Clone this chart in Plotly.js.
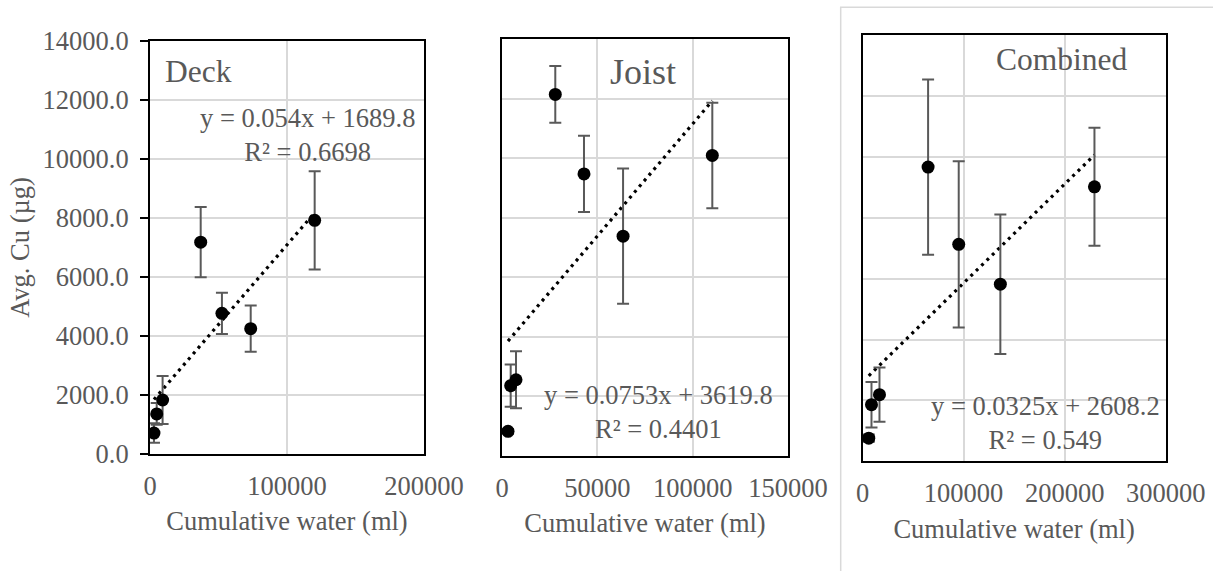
<!DOCTYPE html>
<html>
<head>
<meta charset="utf-8">
<script src="https://cdn.plot.ly/plotly-3.0.1.min.js"></script>
<style>html,body{margin:0;padding:0;background:#fff;}#chart{width:1213px;height:571px;}</style>
</head>
<body>
<div id="chart"></div>
<script>
// ---- data ----
const panelNames = ["Deck", "Joist", "Combined"];

const deckX   = [2900, 4900, 9200, 37000, 52500, 73500, 120200];
const deckY   = [710, 1360, 1830, 7180, 4770, 4250, 7920];
const deckErr = [330, 370, 810, 1190, 700, 780, 1665];

const joistX   = [3150, 4550, 7350, 27950, 43000, 63500, 110300];
const joistY   = [830, 2360, 2560, 12140, 9470, 7380, 10090];
const joistErr = [80, 710, 960, 955, 1280, 2270, 1770];

const combX   = [6200, 8900, 16800, 64900, 95200, 136400, 229500];
const combY   = [760, 1860, 2190, 9670, 7130, 5820, 9020];
const combErr = [120, 750, 890, 2880, 2730, 2290, 1940];

const slopes     = [0.054, 0.0753, 0.0325];
const intercepts = [1689.8, 3619.8, 2608.2];
const eqLabels   = ["y = 0.054x + 1689.8<br>R² = 0.6698",
                    "y = 0.0753x + 3619.8<br>R² = 0.4401",
                    "y = 0.0325x + 2608.2<br>R² = 0.549"];

const xRanges = [[0, 200000], [0, 150000], [0, 300000]];
const xTicks  = [[0, 100000, 200000], [0, 50000, 100000, 150000], [0, 100000, 200000, 300000]];
const yTicks  = [0, 2000, 4000, 6000, 8000, 10000, 12000, 14000];

const xTitle = "Cumulative water (ml)";
const yTitle = "Avg. Cu (µg)";

// ---- layout geometry (pixels) ----
const W = 1213, H = 571;
const boxes = [
  {l:150, r:424, t:41, b:454},
  {l:502, r:788, t:39, b:456},
  {l:862.5, r:1165.7, t:35.3, b:461.3}
];
const FONT = "Liberation Serif";
const GRAY = "#595959";
const FS = 26.5;

const seriesX = [deckX, joistX, combX];
const seriesY = [deckY, joistY, combY];
const seriesE = [deckErr, joistErr, combErr];

const traces = [];
const layout = {
  width: W, height: H,
  margin: {l:0, r:0, t:0, b:0},
  paper_bgcolor: "#fff",
  plot_bgcolor: "#fff",
  showlegend: false,
  font: {family: FONT, color: GRAY, size: FS},
  annotations: [],
  shapes: [{
    type: "rect", xref: "paper", yref: "paper",
    x0: 840.7 / W, x1: 1.02, y0: -0.02, y1: 1 - 7.3 / H,
    line: {color: "#d9d9d9", width: 1.5}, fillcolor: "rgba(0,0,0,0)", layer: "below"
  }]
};

for (let i = 0; i < 3; i++) {
  const sfx = i === 0 ? "" : String(i + 1);
  const xa = "x" + sfx, ya = "y" + sfx;
  const bx = boxes[i];
  const xs = seriesX[i];
  const xmin = Math.min(...xs), xmax = Math.max(...xs);

  // dotted linear trendline
  traces.push({
    type: "scatter", mode: "lines", xaxis: xa, yaxis: ya,
    x: [xmin, xmax],
    y: [slopes[i] * xmin + intercepts[i], slopes[i] * xmax + intercepts[i]],
    line: {color: "#000", width: 3.2, dash: "3px,4.5px"},
    hoverinfo: "skip"
  });
  // points with error bars
  traces.push({
    type: "scatter", mode: "markers", xaxis: xa, yaxis: ya,
    x: xs, y: seriesY[i],
    marker: {color: "#000", size: 13},
    error_y: {type: "data", array: seriesE[i], visible: true, color: GRAY, thickness: 2, width: 6}
  });

  layout["xaxis" + sfx] = {
    domain: [bx.l / W, bx.r / W],
    anchor: ya,
    range: xRanges[i], autorange: false,
    tickvals: xTicks[i], ticktext: xTicks[i].map(String),
    showgrid: true, gridcolor: "#d9d9d9", gridwidth: 2,
    zeroline: false,
    showline: true, linecolor: "#000", linewidth: 2, mirror: true,
    ticks: "", ticklabelstandoff: 7,
    tickfont: {family: FONT, color: GRAY, size: FS},
    title: {text: xTitle, font: {family: FONT, color: GRAY, size: FS}, standoff: 12}
  };
  layout["yaxis" + sfx] = {
    domain: [1 - bx.b / H, 1 - bx.t / H],
    anchor: xa,
    range: [0, 14000], autorange: false,
    tickvals: yTicks,
    tickformat: ".1f",
    showticklabels: i === 0,
    showgrid: true, gridcolor: "#d9d9d9", gridwidth: 2,
    zeroline: false,
    showline: true, linecolor: "#000", linewidth: 2, mirror: true,
    ticks: i === 0 ? "outside" : "", ticklen: 8, tickwidth: 2, tickcolor: "#000",
    ticklabelstandoff: 6,
    tickfont: {family: FONT, color: GRAY, size: FS},
    title: i === 0 ? {text: yTitle, font: {family: FONT, color: GRAY, size: FS}, standoff: 5} : {text: ""}
  };
}

// panel labels and trendline equations
const nameFx = [(198.3 - 150) / 274, (643.3 - 502) / 286, (1061 - 862.5) / 303.2];
const nameFy = [1 - (71 - 41) / 413, 1 - (71.7 - 39) / 417, 1 - (59.3 - 35.3) / 426];
const nameSz = [31.5, 36, 31.5];
const eqFx = [(307 - 150) / 274, (658.5 - 502) / 286, (1045 - 862.5) / 303.2];
const eqFy = [1 - (135 - 41) / 413, 1 - (411.5 - 39) / 417, 1 - (422.5 - 35.3) / 426];

for (let i = 0; i < 3; i++) {
  const sfx = i === 0 ? "" : String(i + 1);
  layout.annotations.push({
    xref: "x" + sfx + " domain", yref: "y" + sfx + " domain",
    x: nameFx[i], y: nameFy[i], xanchor: "center", yanchor: "middle",
    text: panelNames[i], showarrow: false,
    font: {family: FONT, color: GRAY, size: nameSz[i]}
  });
  layout.annotations.push({
    xref: "x" + sfx + " domain", yref: "y" + sfx + " domain",
    x: eqFx[i], y: eqFy[i], xanchor: "center", yanchor: "middle",
    text: eqLabels[i], showarrow: false, align: "center",
    font: {family: FONT, color: GRAY, size: FS}
  });
}

Plotly.newPlot("chart", traces, layout, {staticPlot: true, displayModeBar: false});
</script>
</body>
</html>
